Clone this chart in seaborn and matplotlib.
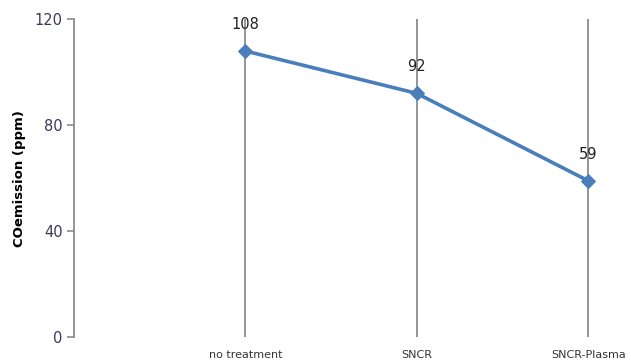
import pandas as pd
import seaborn as sns
import matplotlib.pyplot as plt

# data
treatments = ['no treatment', 'SNCR', 'SNCR-Plasma']
co_emission = [108, 92, 59]
positions = [1, 2, 3]

df = pd.DataFrame({'pos': positions, 'CO': co_emission, 'label': treatments})

sns.set_theme(style="white")
plt.rcParams['font.family'] = ['DejaVu Sans']

fig = plt.figure(figsize=(6.31, 3.62), dpi=100)
ax = fig.add_axes([0.117, 0.069, 0.883, 0.878])

# vertical lines at each category
for p in positions:
    ax.axvline(p, color='#8c8c8c', lw=1.3, zorder=1)

sns.lineplot(data=df, x='pos', y='CO', color='#4A7EBB', lw=2.6,
             marker='D', markersize=7, markeredgecolor='#4A7EBB', ax=ax, zorder=3)

for p, v in zip(positions, co_emission):
    ax.annotate(str(v), (p, v), xytext=(0, 19), textcoords='offset points',
                ha='center', va='center', fontsize=10.5, color='#222222')

ax.set_xlim(0, 3.25)
ax.set_ylim(0, 120)
ax.set_yticks([0, 40, 80, 120])
ax.set_xticks(positions)
ax.set_xticklabels(treatments, fontsize=8, color='#333333')
ax.tick_params(axis='x', length=0, pad=9)
ax.tick_params(axis='y', length=5, width=1.2, color='#8c8c8c', labelsize=10.5,
               labelcolor='#3a3a5a', left=True, pad=3)
ax.set_xlabel('')
ax.set_ylabel('COemission (ppm)', fontsize=9.5, fontweight='bold', color='black', labelpad=6)

for s in ['top', 'right', 'bottom']:
    ax.spines[s].set_visible(False)
ax.spines['left'].set_color('#8c8c8c')
ax.spines['left'].set_linewidth(1.3)

plt.savefig('out.png', dpi=100)
